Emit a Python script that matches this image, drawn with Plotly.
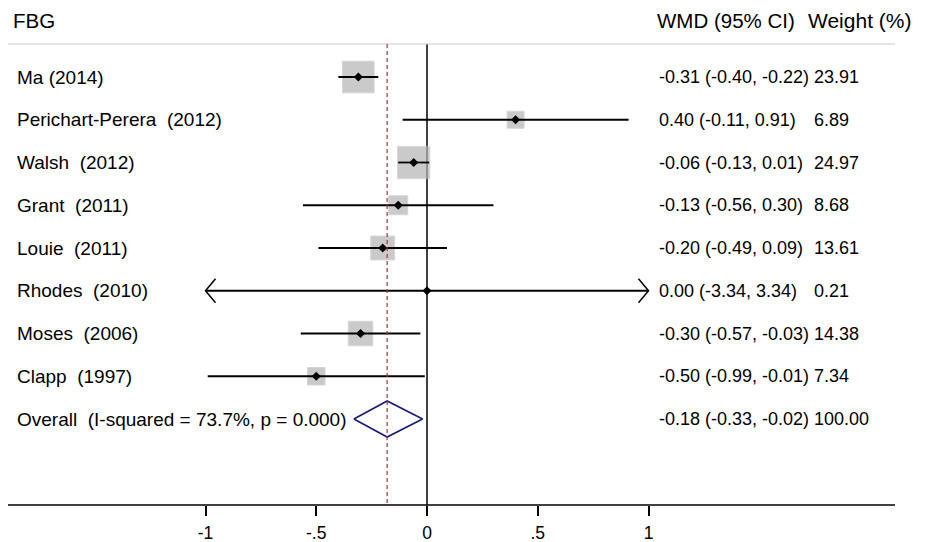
import plotly.graph_objects as go

# ---------------- data ----------------
studies = ["Ma (2014)", "Perichart-Perera\u00a0 (2012)", "Walsh\u00a0 (2012)", "Grant\u00a0 (2011)",
           "Louie\u00a0 (2011)", "Rhodes\u00a0 (2010)", "Moses\u00a0 (2006)", "Clapp\u00a0 (1997)"]
est = [-0.31, 0.40, -0.06, -0.13, -0.20, 0.00, -0.30, -0.50]
lcl = [-0.40, -0.11, -0.13, -0.56, -0.49, -3.34, -0.57, -0.99]
ucl = [-0.22, 0.91, 0.01, 0.30, 0.09, 3.34, -0.03, -0.01]
weights = [23.91, 6.89, 24.97, 8.68, 13.61, 0.21, 14.38, 7.34]

overall_label = "Overall\u00a0 (I-squared = 73.7%, p = 0.000)"
overall_est = -0.18
overall_lcl = -0.33
overall_ucl = -0.02
overall_weight = 100.00

x_ticks = [-1, -0.5, 0, 0.5, 1]
x_ticktext = ["-1", "-.5", "0", ".5", "1"]
title_left = "FBG"
head_ci = "WMD (95% CI)"
head_w = "Weight (%)"

# ---------------- layout constants ----------------
OFF = 8                                # page body margin
W, H = 930 - OFF, 542 - OFF
X0PX, XSCALE = 427.0 - OFF, 221.5      # pixel of x=0, pixels per unit
ROW0PX, ROWPX = 77.0 - OFF, 42.75      # pixel of first row, pixels per row
PLOT_BOTTOM = 505.0 - OFF
xmin_disp, xmax_disp = x_ticks[0], x_ticks[-1]

xr = [-X0PX / XSCALE, (W - X0PX) / XSCALE]
yr = [(PLOT_BOTTOM - ROW0PX) / ROWPX, -ROW0PX / ROWPX]
header_line_row = (44 - OFF - ROW0PX) / ROWPX
header_text_row = (20 - OFF - ROW0PX) / ROWPX

def px(x):
    return (x - OFF) / W

FONT = "Arial, Liberation Sans, sans-serif"
n = len(studies)
rows = list(range(n))
overall_row = n

fig = go.Figure()

# boxes (area proportional to weight)
box_k = 6.45
fig.add_trace(go.Scatter(
    x=est, y=rows, mode="markers",
    marker=dict(symbol="square", size=[box_k * w ** 0.5 for w in weights],
                color="#b4b4b4", line=dict(color="#c4c4c4", width=1)),
    hoverinfo="skip", showlegend=False))

# CI lines (clipped at display limits), with arrowheads when clipped
ax_dx = 10 / XSCALE
ax_dy = 12 / ROWPX
for i in range(n):
    lo = max(lcl[i], xmin_disp)
    hi = min(ucl[i], xmax_disp)
    fig.add_trace(go.Scatter(x=[lo, hi], y=[i, i], mode="lines",
                             line=dict(color="black", width=1.8),
                             hoverinfo="skip", showlegend=False))
    if lcl[i] < xmin_disp:
        fig.add_trace(go.Scatter(x=[lo + ax_dx, lo, lo + ax_dx], y=[i - ax_dy, i, i + ax_dy],
                                 mode="lines", line=dict(color="black", width=1.5),
                                 hoverinfo="skip", showlegend=False))
    if ucl[i] > xmax_disp:
        fig.add_trace(go.Scatter(x=[hi - ax_dx, hi, hi - ax_dx], y=[i - ax_dy, i, i + ax_dy],
                                 mode="lines", line=dict(color="black", width=1.5),
                                 hoverinfo="skip", showlegend=False))

# point estimates
fig.add_trace(go.Scatter(x=est, y=rows, mode="markers",
                         marker=dict(symbol="diamond", size=7, color="black"),
                         hoverinfo="skip", showlegend=False))

# overall diamond
dh = 18 / ROWPX
fig.add_trace(go.Scatter(
    x=[overall_lcl, overall_est, overall_ucl, overall_est, overall_lcl],
    y=[overall_row, overall_row - dh, overall_row, overall_row + dh, overall_row],
    mode="lines", line=dict(color="#1a1a78", width=1.6),
    hoverinfo="skip", showlegend=False))

shapes = [
    # header separator
    dict(type="line", xref="paper", yref="y", x0=0, x1=px(895),
         y0=header_line_row, y1=header_line_row, line=dict(color="#c8c8c8", width=1)),
    # zero line
    dict(type="line", xref="x", yref="y", x0=0, x1=0, y0=header_line_row, y1=yr[0],
         line=dict(color="black", width=1.5), layer="below"),
    # overall effect dashed line
    dict(type="line", xref="x", yref="y", x0=overall_est, x1=overall_est,
         y0=header_line_row, y1=yr[0], line=dict(color="#9a3a3a", width=1.2, dash="4px,3px")),
    # bottom axis line
    dict(type="line", xref="paper", yref="paper", x0=0, x1=px(895), y0=0, y1=0,
         line=dict(color="black", width=1.5)),
]

ann = []
def text(x_px, row, s, size, anchor="left"):
    ann.append(dict(x=px(x_px), xref="paper", y=row, yref="y", text=s, showarrow=False,
                    xanchor=anchor, yanchor="middle",
                    font=dict(family=FONT, size=size, color="black")))

text(11, header_text_row, title_left, 20.5)
text(655, header_text_row, head_ci, 20.5)
text(806, header_text_row, head_w, 21)

for i in range(n):
    text(15, i, studies[i], 19)
    text(657, i, f"{est[i]:.2f} ({lcl[i]:.2f}, {ucl[i]:.2f})", 18)
    text(812, i, f"{weights[i]:.2f}", 18)
text(15, overall_row, overall_label, 19)
text(657, overall_row, f"{overall_est:.2f} ({overall_lcl:.2f}, {overall_ucl:.2f})", 18)
text(812, overall_row, f"{overall_weight:.2f}", 18)

fig.update_layout(
    width=W, height=H,
    margin=dict(l=0, r=0, t=0, b=H - PLOT_BOTTOM),
    paper_bgcolor="white", plot_bgcolor="white",
    shapes=shapes, annotations=ann,
    xaxis=dict(range=xr, showgrid=False, zeroline=False, showline=False,
               tickmode="array", tickvals=x_ticks, ticktext=x_ticktext,
               ticks="outside", ticklen=10, tickwidth=1.5, tickcolor="black",
               tickfont=dict(family=FONT, size=17.5, color="black"),
               ticklabelstandoff=2, fixedrange=True),
    yaxis=dict(range=yr, showgrid=False, zeroline=False, showline=False,
               showticklabels=False, ticks="", fixedrange=True),
)

fig.write_html("out.html")
